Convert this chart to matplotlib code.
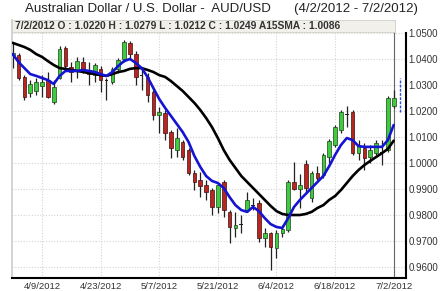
import numpy as np
import pandas as pd
import matplotlib
matplotlib.use("Agg")
import matplotlib.pyplot as plt
from matplotlib.patches import Rectangle

plt.rcParams['font.family'] = ['Liberation Sans', 'DejaVu Sans']

# AUD/USD daily candles, 4/2/2012 - 7/2/2012 (weekdays)
dates = pd.bdate_range("2012-04-02", "2012-07-02")

opens = [1.0415, 1.0415, 1.0331, 1.0269, 1.0277, 1.0296, 1.0319, 1.0235, 1.0327, 1.0442,
         1.0369, 1.0358, 1.0388, 1.0358, 1.0338, 1.0362, 1.0319, 1.0312, 1.0362, 1.0400,
         1.0462, 1.0419, 1.0338, 1.0331, 1.0273, 1.0185, 1.0192, 1.0119, 1.0050, 1.0081,
         1.0050, 0.9962, 0.9935, 0.9915, 0.9896, 0.9831, 0.9927, 0.9812, 0.9750, 0.9762,
         0.9819, 0.9838, 0.9846, 0.9712, 0.9731, 0.9673, 0.9731, 0.9742, 0.9927, 0.9900,
         0.9996, 0.9865, 0.9962, 0.9954, 1.0023, 1.0069, 1.0127, 1.0188, 1.0196, 1.0038,
         1.0058, 1.0023, 1.0038, 1.0042, 1.0050, 1.0220]
highs = [1.0462, 1.0423, 1.0338, 1.0319, 1.0327, 1.0338, 1.0350, 1.0319, 1.0450, 1.0450,
         1.0388, 1.0408, 1.0408, 1.0388, 1.0385, 1.0373, 1.0327, 1.0369, 1.0404, 1.0473,
         1.0469, 1.0431, 1.0358, 1.0346, 1.0281, 1.0215, 1.0204, 1.0127, 1.0135, 1.0088,
         1.0058, 0.9973, 0.9965, 0.9935, 0.9904, 0.9923, 0.9935, 0.9819, 0.9812, 0.9800,
         0.9888, 0.9865, 0.9858, 0.9750, 0.9735, 0.9742, 0.9762, 0.9935, 1.0004, 0.9958,
         1.0012, 0.9969, 0.9988, 1.0038, 1.0092, 1.0146, 1.0204, 1.0219, 1.0204, 1.0088,
         1.0077, 1.0069, 1.0088, 1.0088, 1.0258, 1.0279]
lows = [1.0365, 1.0319, 1.0242, 1.0254, 1.0262, 1.0254, 1.0250, 1.0227, 1.0323, 1.0358,
        1.0312, 1.0327, 1.0346, 1.0300, 1.0312, 1.0273, 1.0242, 1.0304, 1.0346, 1.0388,
        1.0404, 1.0300, 1.0281, 1.0235, 1.0165, 1.0115, 1.0088, 1.0019, 1.0023, 1.0012,
        0.9954, 0.9896, 0.9869, 0.9858, 0.9800, 0.9808, 0.9792, 0.9692, 0.9715, 0.9731,
        0.9812, 0.9819, 0.9696, 0.9677, 0.9588, 0.9635, 0.9715, 0.9735, 0.9896, 0.9827,
        0.9888, 0.9850, 0.9935, 0.9942, 1.0000, 1.0062, 1.0115, 1.0138, 1.0031, 1.0012,
        0.9973, 1.0000, 1.0031, 0.9992, 1.0042, 1.0212]
closes = [1.0423, 1.0327, 1.0254, 1.0304, 1.0312, 1.0312, 1.0254, 1.0292, 1.0438, 1.0373,
          1.0350, 1.0392, 1.0362, 1.0342, 1.0377, 1.0319, 1.0319, 1.0362, 1.0396, 1.0465,
          1.0419, 1.0331, 1.0338, 1.0262, 1.0185, 1.0196, 1.0115, 1.0058, 1.0096, 1.0023,
          0.9962, 0.9927, 0.9912, 0.9888, 0.9831, 0.9915, 0.9819, 0.9754, 0.9762, 0.9762,
          0.9858, 0.9838, 0.9712, 0.9731, 0.9677, 0.9731, 0.9746, 0.9927, 0.9900, 0.9915,
          0.9904, 0.9962, 0.9942, 1.0031, 1.0085, 1.0138, 1.0196, 1.0188, 1.0038, 1.0069,
          1.0019, 1.0050, 1.0077, 1.0042, 1.0250, 1.0249]

# moving averages
fast_ma = [1.0419, 1.0388, 1.0365, 1.0342, 1.0335, 1.0327, 1.0319, 1.0304, 1.0335, 1.0354,
           1.0354, 1.0354, 1.0358, 1.0354, 1.0350, 1.0342, 1.0335, 1.0350, 1.0373, 1.0392,
           1.0400, 1.0385, 1.0365, 1.0331, 1.0288, 1.0246, 1.0212, 1.0181, 1.0150, 1.0119,
           1.0081, 1.0027, 0.9985, 0.9950, 0.9931, 0.9923, 0.9904, 0.9869, 0.9838, 0.9819,
           0.9812, 0.9831, 0.9815, 0.9788, 0.9765, 0.9754, 0.9750, 0.9788, 0.9831, 0.9858,
           0.9881, 0.9904, 0.9927, 0.9950, 0.9988, 1.0031, 1.0069, 1.0096, 1.0088, 1.0065,
           1.0062, 1.0062, 1.0062, 1.0062, 1.0088, 1.0146]
sma15 = [1.0462, 1.0454, 1.0446, 1.0435, 1.0419, 1.0408, 1.0392, 1.0377, 1.0365, 1.0362,
         1.0358, 1.0354, 1.0350, 1.0346, 1.0342, 1.0338, 1.0335, 1.0342, 1.0350, 1.0354,
         1.0362, 1.0365, 1.0365, 1.0358, 1.0350, 1.0338, 1.0331, 1.0315, 1.0296, 1.0277,
         1.0254, 1.0231, 1.0204, 1.0173, 1.0138, 1.0096, 1.0050, 1.0012, 0.9981, 0.9950,
         0.9927, 0.9904, 0.9881, 0.9858, 0.9835, 0.9815, 0.9804, 0.9800, 0.9800, 0.9800,
         0.9804, 0.9812, 0.9827, 0.9838, 0.9858, 0.9873, 0.9896, 0.9923, 0.9950, 0.9973,
         0.9992, 1.0008, 1.0023, 1.0038, 1.0054, 1.0086]

price_ticks = [0.96, 0.97, 0.98, 0.99, 1.00, 1.01, 1.02, 1.03, 1.04, 1.05]
date_ticks = ["4/9/2012", "4/23/2012", "5/7/2012", "5/21/2012", "6/4/2012", "6/18/2012", "7/2/2012"]

labels = [f"{d.month}/{d.day}/{d.year}" for d in dates]
x = np.arange(len(dates))
o = np.array(opens)
c = np.array(closes)

fig = plt.figure(figsize=(4.4, 2.91), dpi=100)
ax = fig.add_axes([12/440, 1-278/291, 394/440, 258/291])

ax.set_xlim(-0.12, 67.1)
ax.set_ylim(0.95577, 1.0550)

# grid
ax.set_yticks(price_ticks)
ax.set_yticklabels([f"{p:.4f}" for p in price_ticks])
tick_pos = [labels.index(t) for t in date_ticks]
ax.set_xticks(tick_pos)
ax.set_xticklabels(date_ticks)
ax.grid(True, color="#d4d4d4", linestyle=(0, (1, 1.5)), linewidth=0.8)
ax.set_axisbelow(True)

# cursor line at last bar
ax.axvline(x[-1], color="#666666", lw=0.8, zorder=1)

# candles
ax.vlines(x, lows, highs, color="#222222", lw=0.9, zorder=2)
up = c > o
down = c < o
flat = c == o
body_w = 0.62
ax.bar(x[up], (c - o)[up], bottom=o[up], width=body_w, color="#3dcc3d",
       edgecolor="#1f3f1f", linewidth=0.5, zorder=3)
ax.bar(x[down], (o - c)[down], bottom=c[down], width=body_w, color="#b8261f",
       edgecolor="#3a1010", linewidth=0.5, zorder=3)
ax.bar(x[flat], 0.0004, bottom=o[flat] - 0.0002, width=body_w, color="#222222",
       linewidth=0, zorder=3)

ax.plot(x, sma15, color="black", lw=1.9, zorder=4, solid_capstyle="round")
ax.plot(x, fast_ma, color="#1414d2", lw=1.9, zorder=5, solid_capstyle="round")

# last price range marker
ax.plot([66.1, 66.1], [1.0196, 1.0327], color="#2a4fd0", lw=1.0,
        linestyle=(0, (2, 1)), clip_on=False, zorder=5)

# spines
ax.spines["top"].set_visible(False)
ax.spines["left"].set_color("#cccccc")
ax.spines["left"].set_linewidth(1.2)
ax.spines["bottom"].set_color("black")
ax.spines["bottom"].set_linewidth(1.5)
ax.spines["right"].set_color("black")
ax.spines["right"].set_linewidth(1.5)
ax.spines["right"].set_bounds(0.95577, 1.0500)

ax.yaxis.tick_right()
ax.tick_params(axis="y", length=0, pad=2, labelsize=7, labelcolor="#333333")
ax.tick_params(axis="x", length=0, pad=3, labelsize=6.8, labelcolor="#333333")

# header bar
ax.add_patch(Rectangle((0, 1 - 12/258), 383/394, 12/258, transform=ax.transAxes,
                       facecolor="#f1f0ea", edgecolor="#d0d0c8", lw=0.6,
                       zorder=6, clip_on=False))
ax.text(3/394, 1 - 6/258, "7/2/2012 O : 1.0220 H : 1.0279 L : 1.0212 C : 1.0249 A15SMA : 1.0086",
        transform=ax.transAxes, fontsize=7.4, fontweight="bold", color="#333333",
        va="center", ha="left", zorder=7)

fig.text(25/440, 1 - 9/291, "Australian Dollar / U.S. Dollar -  AUD/USD",
         fontsize=9.5, color="#222222", va="center", ha="left")
fig.text(418/440, 1 - 9/291, "(4/2/2012 - 7/2/2012)",
         fontsize=9.5, color="#222222", va="center", ha="right")

fig.savefig("out.png", dpi=100)
